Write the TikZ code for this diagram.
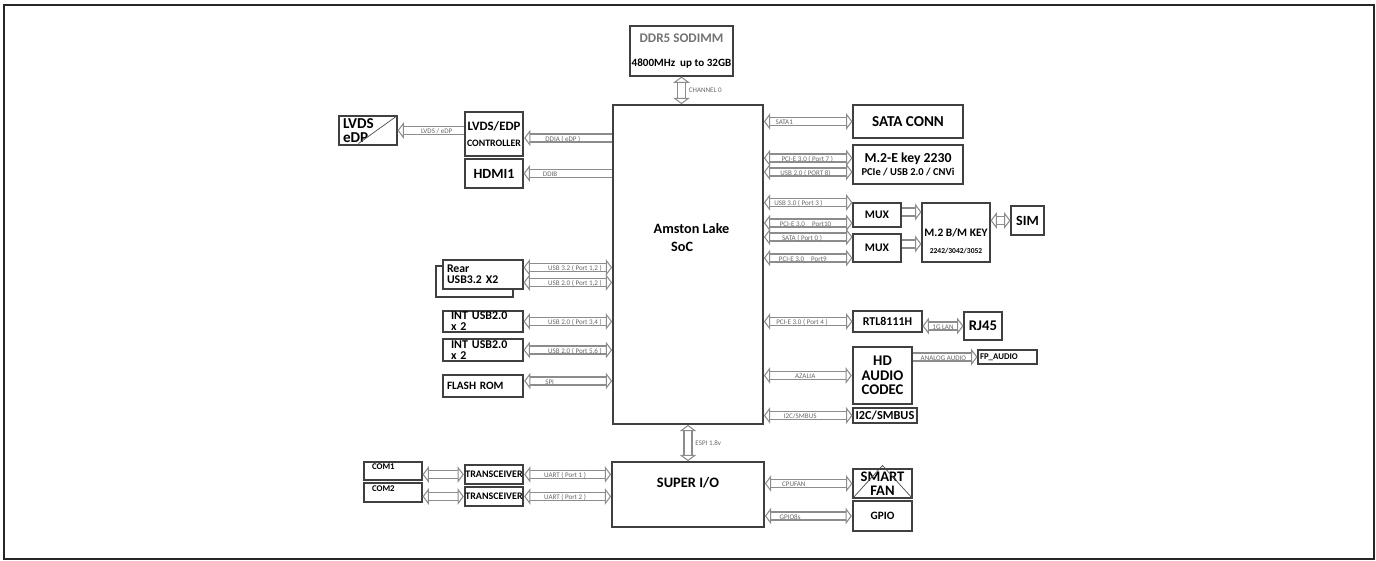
\documentclass[tikz,border=0pt]{standalone}
\usepackage{fontspec}
\setmainfont{Carlito}
\usepackage{tikz}
\usetikzlibrary{arrows.meta}
\tikzstyle{blk} = [rectangle, draw=black!75, line width=0.6pt, fill=white,
inner sep=0pt, align=center]
\tikzstyle{hblk} = [blk, line width=1.3pt]
\tikzstyle{bus} = [draw=black!45, line width=0.65pt, double=white, double distance=3.9pt,
arrows={Triangle[length=3.6pt, width=9.5pt, fill=white, line width'=0.6pt]-Triangle[length=3.6pt, width=9.5pt, fill=white, line width'=0.6pt]}]
\tikzstyle{bus1} = [bus, arrows={-Triangle[length=3.6pt, width=9.5pt, fill=white, line width'=0.6pt]}]
\tikzstyle{lbl} = [font=\fontsize{4}{5}\selectfont, text=black!60, inner sep=0.5pt, yshift=-0.02cm]

\begin{document}
\begin{tikzpicture}[x=0.02cm, y=-0.02cm]
	\useasboundingbox (0,0) rectangle (1376,561);
	\draw[black!85, line width=1.2pt] (4,5) rectangle (1374,559);

	% centre
	\node[blk, line width=1pt, minimum width=3cm, minimum height=6.38cm,
		label={[font=\fontsize{8.1}{10.2}\selectfont\bfseries, align=left, xshift=0.07cm, yshift=0.53cm]center:{Amston Lake\\\hspace*{10pt}SoC}}] (soc) at (688,264.5) {};
	\node[blk, minimum width=2.06cm, minimum height=1cm, font=\fontsize{7}{14}\selectfont\bfseries] (ddr) at (681.5,51) {{\color{black!55}\fontsize{7.5}{8}\selectfont DDR5 SODIMM}\\{\fontsize{6.3}{7}\selectfont 4800MHz\ \ up to 32GB}};
	\node[blk, line width=1pt, minimum width=3.04cm, minimum height=1.3cm,
		label={[font=\fontsize{8.2}{9}\selectfont\bfseries, yshift=0.23cm]center:SUPER I/O}] (sio) at (688,494.5) {};

	% left side
	\node[blk, minimum width=1.16cm, minimum height=0.58cm, text width=1.0cm, align=left, font=\fontsize{8.6}{8.2}\selectfont\bfseries] (lvds) at (368,130.5) {LVDS\\eDP};
	\draw[black!70, line width=0.4pt] ([xshift=0.4cm, yshift=0.04cm]lvds.south west) -- (lvds.north east);
	\node[hblk, minimum width=1.16cm, minimum height=0.88cm, font=\fontsize{7.3}{9}\selectfont\bfseries] (lvds-c) at (494,134) {LVDS/EDP\\{\fontsize{5.6}{6}\selectfont CONTROLLER}};
	\node[blk, minimum width=1.16cm, minimum height=0.58cm, font=\fontsize{8}{9}\selectfont\bfseries] (hdmi) at (494,173.5) {HDMI1};
	\node[blk, minimum width=1.54cm, minimum height=0.62cm] (rear-b) at (474.5,281.5) {};
	\node[blk, minimum width=1.6cm, minimum height=0.58cm, text width=1.44cm, align=left, font=\fontsize{6.7}{6.2}\selectfont\bfseries] (rear) at (483,274.5) {Rear\\USB3.2 X2};
	\node[blk, minimum width=1.6cm, minimum height=0.42cm, text width=1.28cm, align=left, font=\fontsize{6.8}{6.2}\selectfont\bfseries] (int-a) at (483,321.5) {INT USB2.0\\x 2};
	\node[blk, minimum width=1.6cm, minimum height=0.44cm, text width=1.28cm, align=left, font=\fontsize{6.8}{6.2}\selectfont\bfseries] (int-b) at (483,350) {INT USB2.0\\x 2};
	\node[hblk, minimum width=1.6cm, minimum height=0.44cm, text width=1.44cm, align=left, font=\fontsize{6.4}{7}\selectfont\bfseries] (flash) at (483,386) {FLASH ROM};
	\node[blk, minimum width=1.16cm, minimum height=0.36cm, text width=0.84cm, align=left, text height=3.5pt, text depth=4.9pt, font=\fontsize{5}{6}\selectfont\bfseries] (com-a) at (393,471) {COM1};
	\node[blk, minimum width=1.16cm, minimum height=0.38cm, text width=0.84cm, align=left, text height=3.5pt, text depth=4.9pt, font=\fontsize{5}{6}\selectfont\bfseries] (com-b) at (393,492.5) {COM2};
	\node[hblk, minimum width=1.16cm, minimum height=0.38cm, font=\fontsize{5.7}{6}\selectfont\bfseries] (xcv-a) at (494,474.5) {TRANSCEIVER};
	\node[hblk, minimum width=1.16cm, minimum height=0.38cm, font=\fontsize{5.7}{6}\selectfont\bfseries] (xcv-b) at (494,496.5) {TRANSCEIVER};

	% right side
	\node[blk, minimum width=2.2cm, minimum height=0.66cm, font=\fontsize{8.6}{10}\selectfont\bfseries] (sata) at (908,121.5) {SATA CONN};
	\node[blk, minimum width=2.2cm, minimum height=0.78cm, font=\fontsize{7.8}{7.5}\selectfont\bfseries] (m2e) at (908,164.5) {M.2-E key 2230\\{\fontsize{6}{7}\selectfont PCIe / USB 2.0 / CNVi}};
	\node[blk, minimum width=0.96cm, minimum height=0.48cm, font=\fontsize{6.6}{8}\selectfont\bfseries] (mux-a) at (877,215) {MUX};
	\node[blk, minimum width=0.96cm, minimum height=0.56cm, font=\fontsize{6.6}{8}\selectfont\bfseries] (mux-b) at (877,248) {MUX};
	\node[blk, minimum width=1.36cm, minimum height=1.18cm, font=\fontsize{6.5}{8}\selectfont\bfseries,
		label={[font=\fontsize{4.3}{5}\selectfont\bfseries, anchor=south, inner sep=0pt, yshift=0.16cm]south:2242/3042/3052}] (m2bm) at (956,232.5) {M.2 B/M KEY};
	\node[blk, minimum width=0.66cm, minimum height=0.58cm, font=\fontsize{8}{9}\selectfont\bfseries] (sim) at (1027.5,220.5) {SIM};
	\node[blk, minimum width=1.38cm, minimum height=0.42cm, font=\fontsize{6.8}{8}\selectfont\bfseries] (rtl) at (887.5,321.5) {RTL8111H};
	\node[blk, minimum width=0.76cm, minimum height=0.56cm, font=\fontsize{8.4}{9}\selectfont\bfseries] (rj45) at (983,326) {RJ45};
	\node[hblk, minimum width=1.18cm, minimum height=1.14cm, font=\fontsize{8.4}{8.3}\selectfont\bfseries] (codec) at (882.5,375.5) {HD\\AUDIO\\CODEC};
	\node[blk, minimum width=1.18cm, minimum height=0.28cm, text width=1.1cm, align=left, font=\fontsize{5}{6}\selectfont\bfseries] (fp-a) at (1007.5,357) {FP\_AUDIO};
	\node[blk, minimum width=1.28cm, minimum height=0.3cm, font=\fontsize{7}{8}\selectfont\bfseries] (i2c) at (885,415.5) {I2C/SMBUS};
	\node[blk, minimum width=1.18cm, minimum height=0.58cm, font=\fontsize{8.3}{8.2}\selectfont\bfseries] (fan) at (882.5,483.5) {SMART\\FAN};
	\draw[black!70, line width=0.4pt] (fan.south west) -- ([yshift=0.06cm]fan.north) -- (fan.south east);
	\node[hblk, minimum width=1.18cm, minimum height=0.6cm, font=\fontsize{6.4}{8}\selectfont\bfseries] (gpio) at (882.5,516) {GPIO};

	% buses, vertical
	\draw[bus] (ddr.south) -- (ddr.south |- soc.north) node[lbl, midway, right, xshift=0.12cm, yshift=0.02cm] {CHANNEL 0};
	\draw[bus] (soc.south) -- (soc.south |- sio.north) node[lbl, midway, right, xshift=0.12cm, yshift=0.02cm] {ESPI 1.8v};

	% buses, left
	\draw[bus1] (lvds-c.west |- lvds.east) -- (lvds.east) node[lbl, pos=0.41] {LVDS / eDP};
	\draw[bus1] ([yshift=-0.08cm]lvds-c.east -| soc.west) -- ([yshift=-0.08cm]lvds-c.east) node[lbl, pos=0.56] {DDIA ( eDP )};
	\draw[bus1] (soc.west |- hdmi.east) -- (hdmi.east) node[lbl, pos=0.7] {DDIB};
	\draw[bus] ([yshift=0.14cm]rear.east -| soc.west) -- ([yshift=0.14cm]rear.east) node[lbl, pos=0.42] {USB 3.2 ( Port 1,2 )};
	\draw[bus] ([yshift=-0.16cm]rear.east -| soc.west) -- ([yshift=-0.16cm]rear.east) node[lbl, pos=0.42] {USB 2.0 ( Port 1,2 )};
	\draw[bus] (soc.west |- int-a.east) -- (int-a.east) node[lbl, pos=0.42] {USB 2.0 ( Port 3,4 )};
	\draw[bus] (soc.west |- int-b.east) -- (int-b.east) node[lbl, pos=0.42] {USB 2.0 ( Port 5,6 )};
	\draw[bus] ([yshift=0.1cm]flash.east -| soc.west) -- ([yshift=0.1cm]flash.east) node[lbl, pos=0.71] {SPI};
	\draw[bus] (com-a.east |- xcv-a.west) -- (xcv-a.west);
	\draw[bus] (com-b.east |- xcv-b.west) -- (xcv-b.west);
	\draw[bus] (xcv-a.east) -- (xcv-a.east -| sio.west) node[lbl, pos=0.47] {UART ( Port 1 )};
	\draw[bus] (xcv-b.east) -- (xcv-b.east -| sio.west) node[lbl, pos=0.47] {UART ( Port 2 )};

	% buses, right
	\draw[bus] (soc.east |- sata.west) -- (sata.west) node[lbl, pos=0.23] {SATA1};
	\draw[bus] ([yshift=0.13cm]m2e.west -| soc.east) -- ([yshift=0.13cm]m2e.west) node[lbl, pos=0.49] {PCI-E 3.0 ( Port 7 )};
	\draw[bus] ([yshift=-0.15cm]m2e.west -| soc.east) -- ([yshift=-0.15cm]m2e.west) node[lbl, pos=0.47] {USB 2.0 ( PORT 8)};
	\draw[bus] ([yshift=0.25cm]mux-a.west -| soc.east) -- ([yshift=0.25cm]mux-a.west) node[lbl, pos=0.39] {USB 3.0 ( Port 3 )};
	\draw[bus] ([yshift=-0.16cm]mux-a.west -| soc.east) -- ([yshift=-0.16cm]mux-a.west) node[lbl, pos=0.47] {PCI-E 3.0\quad Port10};
	\draw[bus] ([yshift=0.22cm]mux-b.west -| soc.east) -- ([yshift=0.22cm]mux-b.west) node[lbl, pos=0.43] {SATA ( Port 0 )};
	\draw[bus] ([yshift=-0.2cm]mux-b.west -| soc.east) -- ([yshift=-0.2cm]mux-b.west) node[lbl, pos=0.44] {PCI-E 3.0\quad Port9};
	\draw[bus1] ([yshift=0.06cm]mux-a.east) -- ([yshift=0.06cm]mux-a.east -| m2bm.west);
	\draw[bus1] ([yshift=0.08cm]mux-b.east) -- ([yshift=0.08cm]mux-b.east -| m2bm.west);
	\draw[bus] (m2bm.east |- sim.west) -- (sim.west);
	\draw[bus] (soc.east |- rtl.west) -- (rtl.west) node[lbl, pos=0.43] {PCI-E 3.0 ( Port 4 )};
	\draw[bus] (rtl.east |- rj45.west) -- (rj45.west) node[lbl, pos=0.5] {1G LAN};
	\draw[bus] (soc.east |- codec.west) -- (codec.west) node[lbl, pos=0.47] {AZALIA};
	\draw[bus1] (codec.east |- fp-a.west) -- (fp-a.west) node[lbl, pos=0.47] {ANALOG AUDIO};
	\draw[bus] (soc.east |- i2c.west) -- (i2c.west) node[lbl, pos=0.41] {I2C/SMBUS};
	\draw[bus] (sio.east |- fan.west) -- (fan.west) node[lbl, pos=0.33] {CPUFAN};
	\draw[bus] (sio.east |- gpio.west) -- (gpio.west) node[lbl, pos=0.29] {GPIO8s};
\end{tikzpicture}
\end{document}
